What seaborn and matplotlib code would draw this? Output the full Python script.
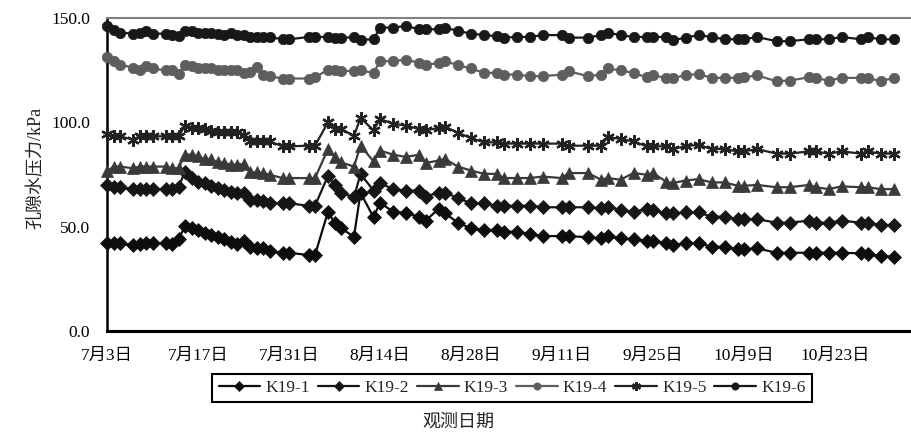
import matplotlib
matplotlib.use("Agg")
import matplotlib.pyplot as plt
import seaborn as sns
import pandas as pd

# ---------------- data ----------------
# observation day offsets counted from 7月3日
days = [0, 1, 2, 4, 5, 6, 7, 9, 10, 11, 12, 13, 14, 15, 16, 17, 18, 19, 20, 21, 22, 23, 24, 25,
        27, 28, 31, 32, 34, 35, 36, 38, 39, 41, 42, 44, 46, 48, 49, 51, 52, 54, 56, 58, 60, 61,
        63, 65, 67, 70, 71, 74, 76, 77, 79, 81, 83, 84, 86, 87, 89, 91, 93, 95, 97, 98, 100,
        103, 105, 108, 109, 111, 113, 116, 117, 119, 121]

k19_1 = [42, 42, 42, 41.2, 41.6, 42, 42, 42, 41.6, 44, 50.3, 49.2, 48.4, 47.1, 46, 44.9, 44, 42.8,
         41.7, 43.3, 40.4, 39.6, 39.6, 38.5, 37.5, 37.5, 36.4, 36.4, 57.2, 51.9, 49.2, 45.2, 66.3,
         54.5, 61.5, 57.2, 56.4, 54.8, 52.9, 58.4, 56.4, 51.9, 49.2, 48.4, 48.4, 47.6, 47.6, 46.5,
         45.5, 45.5, 45.5, 44.9, 44.4, 45.5, 44.4, 44, 43.3, 43.3, 42, 41.2, 42, 42, 40.4, 40.4,
         39.1, 39.1, 39.6, 37.5, 37.5, 37.5, 37.5, 37.5, 37.5, 37.2, 36.8, 35.9, 35.6]

k19_2 = [70, 68.9, 68.9, 68, 68, 68, 68, 68, 68, 68.9, 76.4, 73.3, 71.6, 70.9, 69.6, 68.5, 67.6,
         66.8, 66.1, 66.3, 62.8, 62.8, 62.5, 61.2, 61.2, 61.2, 60, 60, 74.4, 70, 66.3, 64.1, 75.3,
         67.3, 70.9, 68, 67.3, 67.3, 64.4, 66.3, 66.3, 63.7, 61.2, 61.2, 60, 60, 60, 60, 59.3,
         59.3, 59.3, 59.3, 58.8, 59.6, 58, 57.2, 58.4, 58, 56.4, 56.4, 56.8, 56.8, 54.8, 54.8,
         53.6, 53.6, 53.6, 51.9, 51.9, 52.9, 51.9, 51.9, 52.9, 51.9, 51.9, 50.8, 50.8]

k19_3 = [76.5, 78.8, 78.8, 78.0, 78.8, 78.8, 78.8, 78.8, 78.0, 78.0, 84.5, 84.5, 83.7, 82.4, 82.2,
         80.8, 80.5, 79.7, 79.7, 80.0, 76.0, 76.0, 75.7, 74.9, 73.3, 73.3, 73.3, 73.3, 87.2, 83.4,
         80.8, 78.8, 88.8, 81.3, 86.5, 84.5, 83.4, 84.5, 80.5, 81.7, 82.4, 78.8, 76.9, 75.3, 75.3,
         73.3, 73.3, 73.3, 74.0, 73.3, 75.7, 75.7, 72.5, 73.3, 72.5, 75.7, 74.9, 75.7, 71.6, 70.9,
         72.1, 72.8, 71.2, 71.2, 69.6, 69.6, 70.0, 68.9, 68.9, 70.0, 68.9, 68.0, 69.3, 68.9, 68.9,
         68.0, 68.0]

k19_4 = [131.3, 129.3, 127.7, 126.2, 125.3, 126.9, 125.8, 124.9, 124.9, 123.3, 127.7, 126.9, 126.2,
         126.2, 125.8, 125.3, 125.3, 125.3, 124.9, 123.7, 124.2, 126.4, 122.9, 122.1, 121, 121, 121,
         121.5, 125.3, 124.9, 124.5, 124.7, 124.9, 123.7, 129.3, 129.3, 130.1, 128.5, 127.4, 128.5,
         129.3, 127.4, 125.8, 123.7, 123.7, 122.9, 122.9, 122.1, 122.1, 122.9, 124.5, 122.1, 122.9,
         125.8, 124.9, 123.7, 121.6, 122.5, 121.3, 121.3, 122.5, 123.2, 121.3, 121.3, 121.3, 121.6,
         122.5, 119.7, 120, 121.6, 121.3, 120, 121.3, 121.3, 121.3, 119.7, 121.3]

k19_5 = [94.3, 93.6, 93.3, 91.7, 93.3, 93.3, 93.3, 93.3, 93.3, 93.3, 98.4, 97.3, 97.3, 96.8, 95.7,
         95.3, 95.3, 95.3, 95.3, 94.1, 90.9, 90.9, 90.9, 90.9, 88.5, 88.5, 88.8, 88.8, 100, 96.8,
         96.8, 93.6, 102.1, 96.2, 101.6, 99.4, 98.4, 96.8, 96.2, 97.3, 98, 94.9, 92.5, 90.4, 90.4,
         89.8, 89.8, 89.8, 89.8, 89.8, 88.8, 88.8, 88.8, 93, 92, 90.9, 88.5, 88.5, 88.5, 87.2, 88.5,
         89.3, 87.2, 87.2, 86.1, 86.1, 87.2, 85, 85, 86.1, 86.1, 85, 86.1, 85, 86.1, 85, 85]

k19_6 = [146.2, 144.1, 143, 142.5, 143, 143.8, 142.5, 142.5, 141.8, 141.3, 143.8, 143.8, 143, 142.7,
         142.7, 142.5, 141.8, 143, 141.8, 141.8, 140.9, 140.9, 140.9, 140.9, 139.8, 139.8, 140.9,
         140.9, 140.9, 140.4, 140.4, 140.9, 139.5, 139.8, 145.4, 145.4, 146.2, 144.6, 144.6, 144.6,
         145.4, 143.8, 142.5, 141.8, 141.3, 140.6, 140.9, 140.9, 141.8, 141.8, 140.6, 140.6, 141.8,
         143, 141.8, 140.9, 140.9, 140.9, 140.9, 139.3, 140.6, 141.8, 140.9, 139.8, 139.8, 139.8,
         140.9, 138.9, 138.9, 139.8, 139.8, 139.8, 140.9, 139.8, 140.9, 139.8, 139.8]

series_names = ["K19-1", "K19-2", "K19-3", "K19-4", "K19-5", "K19-6"]
series_values = [k19_1, k19_2, k19_3, k19_4, k19_5, k19_6]

xtick_days = [0, 14, 28, 42, 56, 70, 84, 98, 112]
xtick_labels = ["7月3日", "7月17日", "7月31日", "8月14日", "8月28日",
                "9月11日", "9月25日", "10月9日", "10月23日"]
ytick_values = [0, 50, 100, 150]
ytick_labels = ["0.0", "50.0", "100.0", "150.0"]

# ---------------- style ----------------
colors = ["#0d0d0d", "#161616", "#3a3a3a", "#5e5e5e", "#222222", "#181818"]
markers = ["D", "D", "^", "o", (6, 2, 0), "o"]
msizes = [7.5, 7.5, 8.5, 7.5, 9, 7.5]
mews = [0.5, 0.5, 0.5, 0.5, 1.6, 0.5]

sns.set_style("white")
plt.rcParams["font.family"] = ["Liberation Serif", "Noto Sans CJK SC"]

fig = plt.figure(figsize=(9.11, 4.34), dpi=100)
ax = fig.add_axes([107 / 911, 1 - 331 / 434, (911 - 107) / 911, (331 - 18) / 434])

df = pd.DataFrame({"day": days})
for name, vals in zip(series_names, series_values):
    df[name] = vals

for name, c, m, ms, mew in zip(series_names, colors, markers, msizes, mews):
    sns.lineplot(data=df, x="day", y=name, ax=ax, color=c, marker=m, markersize=ms,
                 markeredgecolor=c, markeredgewidth=mew, linewidth=1.6,
                 label=name, legend=False, clip_on=False, zorder=3)

ax.set_xlim(0, (911 - 107) / 6.5)
ax.set_ylim(0, 150)
ax.set_xticks(xtick_days)
ax.set_xticklabels(xtick_labels)
ax.set_yticks(ytick_values)
ax.set_yticklabels(ytick_labels)
ax.tick_params(axis="both", direction="in", length=5, width=1.5, colors="black",
               labelsize=12.5)
ax.tick_params(axis="x", pad=12)
ax.tick_params(axis="y", pad=12)
ax.set_xlabel("")
ax.set_ylabel("")

for s in ["left", "bottom"]:
    ax.spines[s].set_color("black")
ax.spines["left"].set_linewidth(1.8)
ax.spines["bottom"].set_linewidth(2.2)
ax.spines["top"].set_color("#808080")
ax.spines["top"].set_linewidth(1.5)
ax.spines["right"].set_visible(False)

fig.text(36 / 911, 1 - 168 / 434, "孔隙水压力/kPa", rotation=90, ha="center", va="center",
         fontsize=13, color="#222222")
fig.text(458 / 911, 1 - 422 / 434, "观测日期", ha="center", va="center",
         fontsize=13, color="#222222")

handles, labels = ax.get_legend_handles_labels()
leg = fig.legend(handles, labels, loc="center", bbox_to_anchor=(512 / 911, 1 - 388 / 434),
                 ncol=6, frameon=True, fancybox=False, edgecolor="black", framealpha=1,
                 fontsize=12.5, handlelength=2.4, handletextpad=0.3, columnspacing=0.45,
                 borderpad=0.35, markerscale=0.7)
leg.get_frame().set_linewidth(1.5)

fig.savefig("out.png", dpi=100)
